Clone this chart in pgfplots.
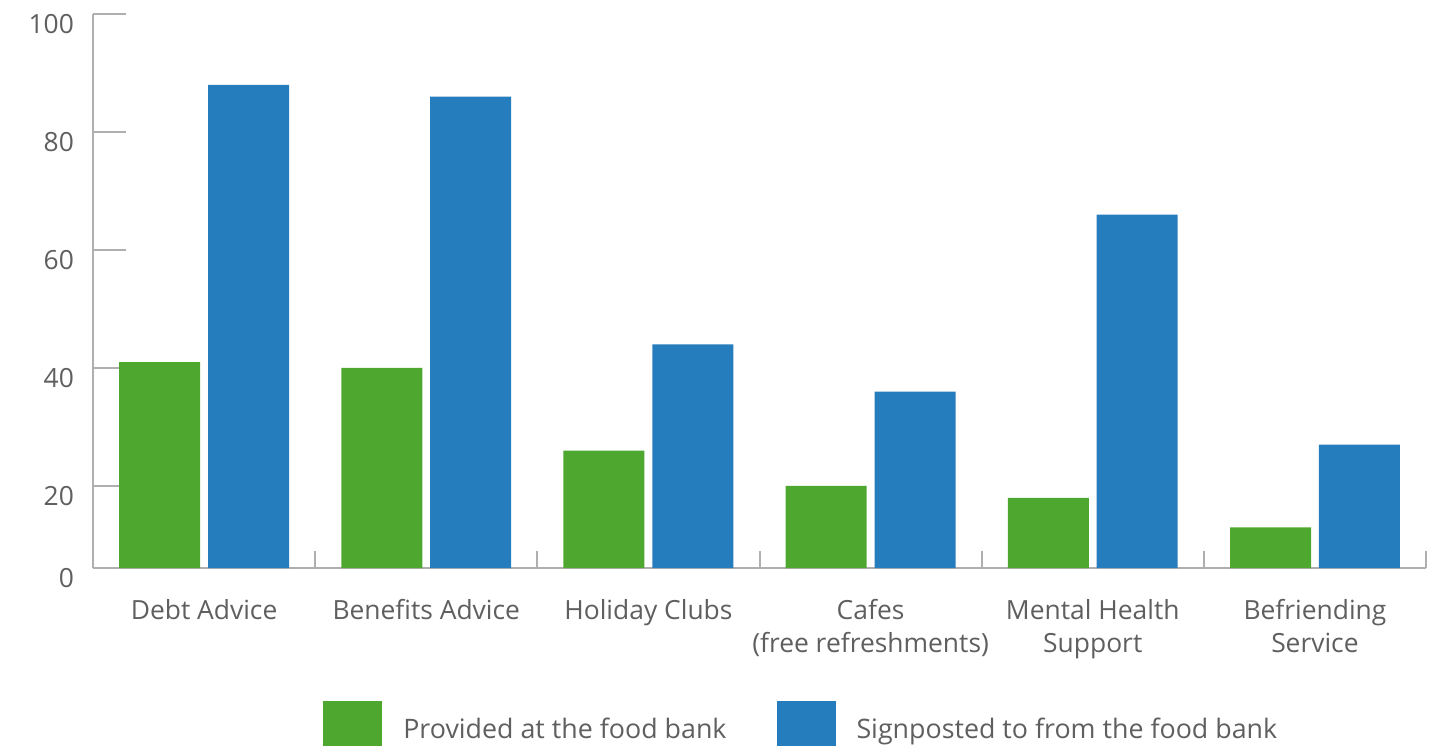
\documentclass[border=0pt]{standalone}
\usepackage{pgfplots}
\pgfplotsset{compat=1.18}
\usepackage{fontspec}
\setmainfont{Open Sans}
\definecolor{cgreen}{RGB}{78,167,46}
\definecolor{cblue}{RGB}{38,125,190}
\definecolor{ctext}{RGB}{95,95,95}
\definecolor{caxis}{RGB}{175,175,175}
\begin{document}
\begin{tikzpicture}
\begin{axis}[
  scale only axis, width=666.5pt, height=277pt,
  xmin=-0.5, xmax=5.5, ymin=6.1, ymax=100,
  axis x line*=bottom, axis y line*=left,
  axis line style={caxis, line width=1pt},
  tick align=inside,
  ytick={6.1,20,40,60,80,100}, yticklabels={0,20,40,60,80,100},
  major tick length=16.5pt,
  xtick={0,...,5},
  xticklabels={Debt Advice, Benefits Advice, Holiday Clubs, {Cafes\\(free refreshments)}, {Mental Health\\Support}, {Befriending\\Service}},
  minor xtick={-0.5,0.5,...,5.5}, minor tick length=8.5pt,
  every major x tick/.append style={draw=none},
  every minor x tick/.append style={caxis, line width=1pt, yshift=8.5pt},
  every major y tick/.append style={caxis, line width=1pt},
  tick label style={font=\fontsize{13.2}{16.5}\selectfont, text=ctext},
  xticklabel style={align=center, anchor=north, yshift=4.5pt},
  yticklabel style={yshift=-5pt, xshift=-6pt},
  /pgf/number format/assume math mode=true,
  ybar, bar width=0.3646,
  legend image code/.code={\fill[#1] (0pt,-9.5pt) rectangle (29.5pt,14.5pt);},
  legend style={at={(axis description cs:0.1725,-0.2744)}, anchor=west, yshift=-2.5pt, draw=none, fill=none,
    legend columns=2, inner sep=0pt, font=\fontsize{13.4}{16}\selectfont, text=ctext,
    /tikz/every odd column/.append style={column sep=8.5pt},
    /tikz/every even column/.append style={column sep=23pt}},
]
\addplot[fill=cgreen, draw=none, bar shift=-0.2] coordinates {(0,41) (1,40) (2,26) (3,20) (4,18) (5,13)};
\addplot[fill=cblue, draw=none, bar shift=0.2] coordinates {(0,88) (1,86) (2,44) (3,36) (4,66) (5,27)};
\legend{Provided at the food bank, Signposted to from the food bank}
\end{axis}
\pgfresetboundingbox
\path[use as bounding box] ([xshift=-46.5pt,yshift=-88.5pt]current axis.south west) rectangle ([xshift=5pt,yshift=7pt]current axis.north east);
\end{tikzpicture}
\end{document}
